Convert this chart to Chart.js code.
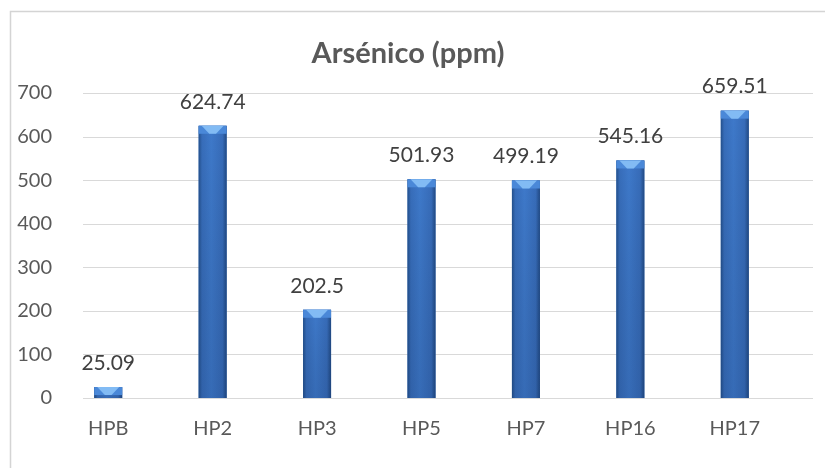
<!DOCTYPE html>
<html>
<head>
<meta charset="utf-8">
<script src="https://cdn.jsdelivr.net/npm/chart.js@4/dist/chart.umd.min.js"></script>
<style>
  html, body { margin: 0; padding: 0; background: #fff; }
  #wrap { width: 825px; height: 468px; position: relative; }
</style>
</head>
<body>
<div id="wrap"><canvas id="arsenicChart"></canvas></div>
<script>
const categories = ['HPB', 'HP2', 'HP3', 'HP5', 'HP7', 'HP16', 'HP17'];
const arsenicValues = [25.09, 624.74, 202.5, 501.93, 499.19, 545.16, 659.51];
const yTicks = [0, 100, 200, 300, 400, 500, 600, 700];
const chartTitle = 'Arsénico (ppm)';

const FONT = 'Lato, "Open Sans", sans-serif';

// frame, title, gridlines, bevelled bars and value labels
const excelLook = {
  id: 'excelLook',
  beforeDraw(chart) {
    const ctx = chart.ctx;
    ctx.save();
    ctx.strokeStyle = '#d4d4d4';
    ctx.lineWidth = 1.5;
    ctx.strokeRect(10.5, 11.5, 900, 600);
    ctx.fillStyle = '#595959';
    ctx.font = 'bold 29px ' + FONT;
    ctx.textAlign = 'center';
    ctx.textBaseline = 'middle';
    ctx.fillText(chartTitle, 408, 54);
    ctx.restore();
  },
  beforeDatasetsDraw(chart) {
    const ctx = chart.ctx;
    const area = chart.chartArea;
    const y = chart.scales.y;
    ctx.save();
    ctx.strokeStyle = '#d9d9d9';
    ctx.lineWidth = 1;
    y.ticks.forEach((t) => {
      const py = Math.round(y.getPixelForValue(t.value)) + 0.5;
      ctx.beginPath();
      ctx.moveTo(area.left + 27, py);
      ctx.lineTo(area.right + 26, py);
      ctx.stroke();
    });
    ctx.restore();
  },
  afterDatasetsDraw(chart) {
    const ctx = chart.ctx;
    const meta = chart.getDatasetMeta(0);
    ctx.save();
    meta.data.forEach((bar, i) => {
      const w = bar.width;
      const left = bar.x - w / 2;
      const right = bar.x + w / 2;
      const top = bar.y;
      const bottom = bar.base;
      const h = bottom - top;

      // body with side shading
      const g = ctx.createLinearGradient(left, 0, right, 0);
      g.addColorStop(0, '#23508c');
      g.addColorStop(0.12, '#376dba');
      g.addColorStop(0.45, '#3e79ca');
      g.addColorStop(0.85, '#376cb9');
      g.addColorStop(1, '#214a84');
      ctx.fillStyle = g;
      ctx.fillRect(left, top, w, h);

      // darken lower part a little
      const gv = ctx.createLinearGradient(0, top, 0, bottom);
      gv.addColorStop(0, 'rgba(0,0,0,0)');
      gv.addColorStop(1, 'rgba(10,30,70,0.15)');
      ctx.fillStyle = gv;
      ctx.fillRect(left, top, w, h);

      // top bevel
      const bev = Math.min(8, h);
      ctx.fillStyle = '#4a88d8';
      ctx.fillRect(left, top, w, bev);
      ctx.fillStyle = '#82bbf4';
      ctx.beginPath();
      ctx.moveTo(left + 3, top);
      ctx.lineTo(right - 3, top);
      ctx.lineTo(bar.x + w * 0.12, top + bev);
      ctx.lineTo(bar.x - w * 0.12, top + bev);
      ctx.closePath();
      ctx.fill();

      // value label
      ctx.fillStyle = '#404040';
      ctx.font = '21px ' + FONT;
      ctx.textAlign = 'center';
      ctx.textBaseline = 'middle';
      ctx.fillText(String(arsenicValues[i]), bar.x, top - 24);
    });
    ctx.restore();
  }
};

new Chart(document.getElementById('arsenicChart'), {
  type: 'bar',
  data: {
    labels: categories,
    datasets: [{
      label: chartTitle,
      data: arsenicValues,
      backgroundColor: '#3a72c2',
      borderWidth: 0,
      categoryPercentage: 1,
      barPercentage: 0.268
    }]
  },
  options: {
    responsive: true,
    maintainAspectRatio: false,
    animation: false,
    layout: { padding: { left: 0, right: 38, top: 93, bottom: 0 } },
    plugins: {
      legend: { display: false },
      tooltip: { enabled: false },
      title: { display: false }
    },
    scales: {
      x: {
        grid: { display: false },
        border: { display: false },
        ticks: { color: '#595959', font: { family: FONT, size: 20 }, padding: 11 },
        afterFit(scale) { scale.height = 70; }
      },
      y: {
        min: 0,
        max: 700,
        grid: { display: false },
        border: { display: false },
        afterBuildTicks(scale) { scale.ticks = yTicks.map((v) => ({ value: v })); },
        ticks: { color: '#595959', font: { family: FONT, size: 20 }, padding: -4 },
        afterFit(scale) { scale.width = 56; }
      }
    }
  },
  plugins: [excelLook]
});
</script>
</body>
</html>
